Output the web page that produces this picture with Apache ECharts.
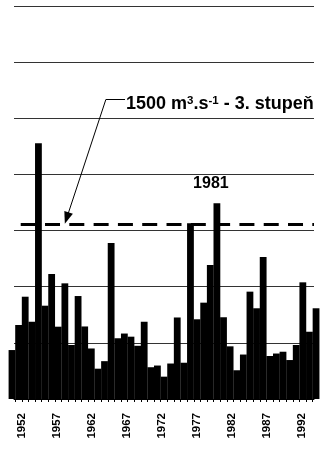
<!DOCTYPE html>
<html><head><meta charset="utf-8">
<script src="https://cdn.jsdelivr.net/npm/echarts@6/dist/echarts.min.js"></script>
<style>html,body{margin:0;padding:0;background:#fff}#c{width:321px;height:453px}</style>
</head><body><div id="c"></div>
<script>
// ---- data ----
const years = [1950,1951,1952,1953,1954,1955,1956,1957,1958,1959,1960,1961,1962,1963,1964,1965,1966,1967,1968,1969,1970,1971,1972,1973,1974,1975,1976,1977,1978,1979,1980,1981,1982,1983,1984,1985,1986,1987,1988,1989,1990,1991,1992,1993,1994,1995,1996];
const peakFlow = [436,659,911,688,2277,831,1113,644,1030,481,917,646,450,270,337,1389,541,583,555,474,688,283,298,199,316,726,323,1565,710,858,1193,1743,728,469,256,396,956,808,1265,383,405,421,347,481,1039,599,808];
const labelYears = [1952,1957,1962,1967,1972,1977,1982,1987,1992];
const yMin = 0, yMax = 3500, yStep = 500;
const highlightYear = 1981;
const thresholdLine = 1555;           // drawn level of the dashed line
const thresholdText = ['1500 m', '3', '.s', '-1', ' - 3. stupeň'];

// visible window of the (cropped) original axes
const barAxisMin = 1950.304, barAxisMax = 1995.69;
const labelAxisMin = 1950.93, labelAxisMax = 1993.79;
const dashStartYear = 1951.32;
const arrowCorner = [1964.2, 2667];
const arrowTip = [1958.28, 1612];
const leaderEnd = [1967.1, 2667];
const textAnchor = [1967.25, 2630];

const FONT = '"Liberation Sans", Arial, sans-serif';
const tickValues = years.map(y => y + 0.5);

const barData = years.map((y, i) => {
  const item = { value: [y, peakFlow[i]] };
  if (y === highlightYear) {
    item.label = {
      show: true, position: 'top', distance: 12, offset: [-6, 0],
      formatter: String(y), fontFamily: FONT, fontWeight: 'bold', fontSize: 16, color: '#000'
    };
  }
  return item;
});

const chart = echarts.init(document.getElementById('c'), null, { renderer: 'canvas', width: 321, height: 453 });
chart.setOption({
  animation: false,
  grid: { left: 14, right: 7, top: 6, bottom: 54 },
  xAxis: [
    {
      type: 'value', min: barAxisMin, max: barAxisMax, position: 'bottom',
      splitLine: { show: false },
      axisLine: { show: true, onZero: false, lineStyle: { color: '#000', width: 1 } },
      axisTick: { show: true, customValues: tickValues, length: 3, lineStyle: { color: '#000', width: 1 } },
      axisLabel: { show: false }
    },
    {
      type: 'value', min: labelAxisMin, max: labelAxisMax, position: 'bottom',
      axisLine: { show: false }, axisTick: { show: false }, splitLine: { show: false },
      axisLabel: {
        show: true, customValues: labelYears, rotate: 90, margin: 14,
        fontFamily: FONT, fontWeight: 'bold', fontSize: 11.5, color: '#000',
        formatter: v => String(v)
      }
    }
  ],
  yAxis: {
    type: 'value', min: yMin, max: yMax, interval: yStep,
    axisLine: { show: false }, axisTick: { show: false }, axisLabel: { show: false },
    splitLine: { show: true, lineStyle: { color: '#333', width: 1 } }
  },
  series: [{
    type: 'bar', xAxisIndex: 0, yAxisIndex: 0,
    data: barData, barWidth: 6.8,
    itemStyle: { color: '#000' },
    clip: true,
    markLine: {
      silent: true, animation: false, symbol: 'none', label: { show: false },
      data: [
        [
          { coord: [dashStartYear, thresholdLine], symbol: 'none', lineStyle: { color: '#000', width: 3, type: [15, 9.3] } },
          { coord: [barAxisMax, thresholdLine], symbol: 'none' }
        ],
        [
          { coord: arrowCorner, symbol: 'none', lineStyle: { color: '#000', width: 1, type: 'solid' } },
          { coord: arrowTip, symbol: 'triangle', symbolSize: [9, 12] }
        ],
        [
          { coord: arrowCorner, symbol: 'none', lineStyle: { color: '#000', width: 1, type: 'solid' } },
          { coord: leaderEnd, symbol: 'none' }
        ]
      ]
    },
    markPoint: {
      silent: true, animation: false, symbol: 'circle', symbolSize: 0,
      data: [{
        coord: textAnchor,
        itemStyle: { color: 'transparent' },
        label: {
          show: true, position: 'right', distance: 0,
          formatter: '{t|' + thresholdText[0] + '}{s|' + thresholdText[1] + '}{t|' + thresholdText[2] + '}{s|' + thresholdText[3] + '}{t|' + thresholdText[4] + '}',
          rich: {
            t: { fontFamily: FONT, fontWeight: 'bold', fontSize: 18, color: '#000' },
            s: { fontFamily: FONT, fontWeight: 'bold', fontSize: 11.5, color: '#000', verticalAlign: 'top' }
          }
        }
      }]
    }
  }]
});
</script>
</body></html>
